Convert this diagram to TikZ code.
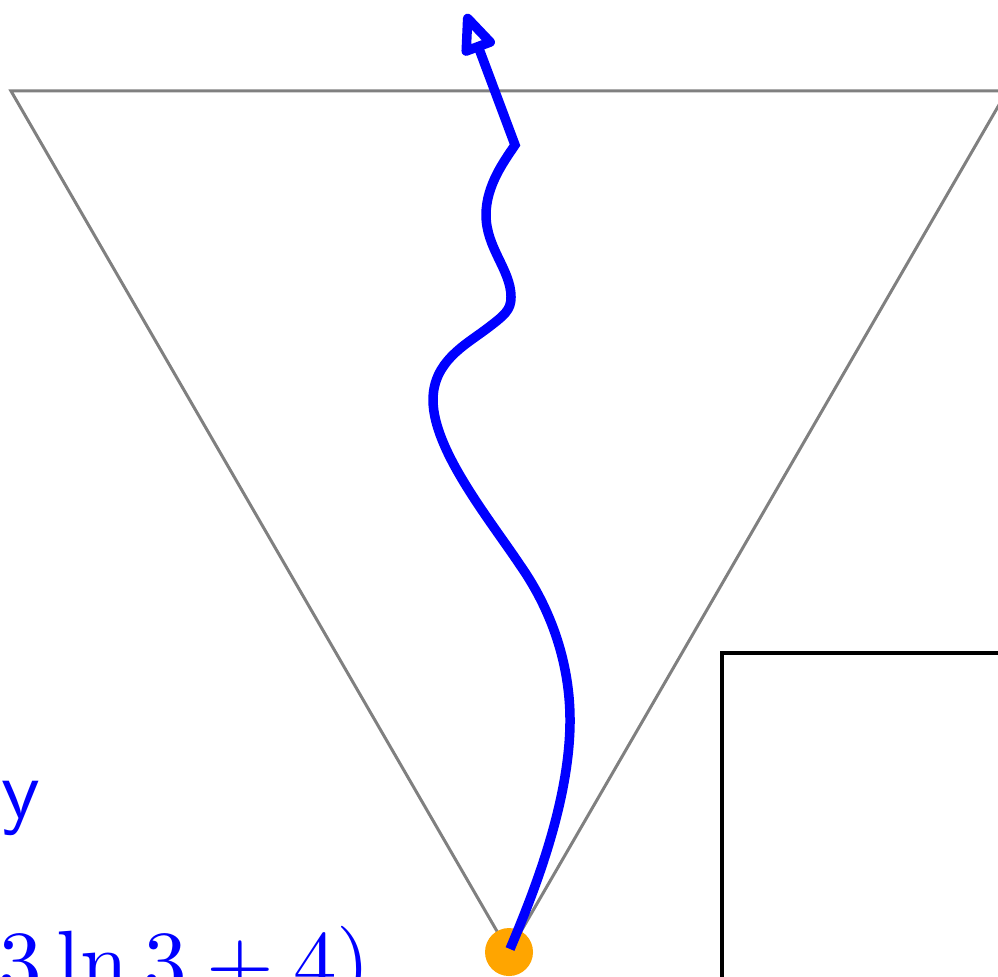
\documentclass[tikz,border=0pt]{standalone}
\usetikzlibrary{arrows.meta}
\definecolor{dotorange}{RGB}{255,165,0}
\begin{document}
\begin{tikzpicture}[x=0.1pt,y=-0.1pt,
  cone/.style={draw=gray,line width=0.3pt,line join=miter},
  walk/.style={draw=blue,line width=0.95pt,line join=miter},
  frame/.style={draw=black,line width=0.35pt},
  lbl/.style={text=blue,inner sep=0pt}]
\clip (0,0) rectangle (998,976);
% cone (equilateral triangle)
\coordinate (TL) at (11,91);
\coordinate (TR) at (1007,91);
\coordinate (AP) at (509,952);
\draw[cone] (TL) -- (TR) -- (AP) -- cycle;
% box
\draw[frame] (722,1100) -- (722,653) -- (1100,653);
% dot
\node[circle,fill=dotorange,minimum size=4.8pt,inner sep=0pt] (dot) at (509,952) {};
% wandering path
\coordinate (start) at (510,949);
\coordinate (kink) at (515,145);
\coordinate (tip) at (466,14);
\draw[walk,-{Triangle[open,length=4.8pt,width=3.7pt,round]}]
  (start) .. controls (535,890) and (570,800) .. (570,720)
  .. controls (570,670) and (555,615) .. (520,565)
  .. controls (490,520) and (433,450) .. (433,400)
  .. controls (433,362) and (465,345) .. (485,330)
  .. controls (505,315) and (511,310) .. (511,297)
  .. controls (511,270) and (486,248) .. (486,215)
  .. controls (486,185) and (505,160) .. (kink)
  -- (tip);
% labels
\node[lbl,anchor=base west,scale=0.84,font=\sffamily] (ylab) at (0,818) {y};
\node[lbl,anchor=base west,scale=0.87] (expr) at (-3,991) {$3\ln 3+4)$};
\end{tikzpicture}
\end{document}
